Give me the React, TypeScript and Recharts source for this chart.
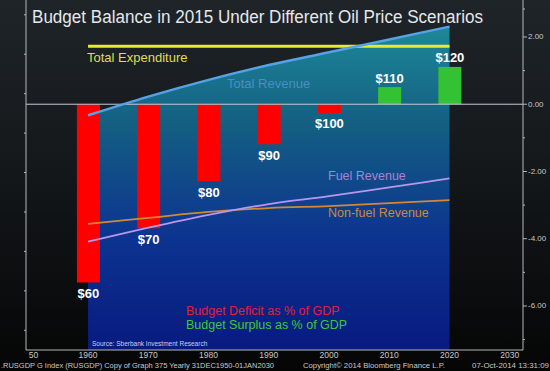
import React from 'react';
import { ComposedChart, Bar, Line, Area, XAxis, YAxis, ReferenceLine, Cell, LabelList } from 'recharts';

const years = [1960, 1970, 1980, 1990, 2000, 2010, 2020];
const oilPrices = ['$60', '$70', '$80', '$90', '$100', '$110', '$120'];
const budgetBalance = [-5.3, -3.69, -2.29, -1.19, -0.26, 0.51, 1.11];
const totalRevenue = [11.9, 12.85, 13.7, 14.45, 15.1, 15.75, 16.4];
const fuelRevenue = [5.5, 6.2, 6.85, 7.4, 7.8, 8.25, 8.7];
const nonFuelRevenue = [6.4, 6.7, 7.0, 7.2, 7.3, 7.45, 7.6];
const totalExpenditure = [15.4, 15.4, 15.4, 15.4, 15.4, 15.4, 15.4];

const xTicks = [1950, 1960, 1970, 1980, 1990, 2000, 2010, 2020, 2030];
const leftTicks = [1, 2, 3, 4, 5, 6, 7, 8, 9, 10, 11, 12, 13, 14, 15, 16, 17];
const rightTicks = [-7, -6, -5, -4, -3, -2, -1, 0, 1, 2, 3];

const data = years.map((year, i) => ({
  year,
  price: oilPrices[i],
  balance: budgetBalance[i],
  totalRev: totalRevenue[i],
  fuel: fuelRevenue[i],
  nonFuel: nonFuelRevenue[i],
  expenditure: totalExpenditure[i],
}));

const FONT = '"Liberation Sans", Arial, sans-serif';
const AXIS = '#b4b8bc';

const LeftTick = (props: any) => {
  const { x, y, payload } = props;
  const major = payload.value % 2 === 0;
  return (
    <g>
      <line x1={x - (major ? 4 : 2)} x2={x} y1={y} y2={y} stroke={AXIS} />
      {major && (
        <text x={x - 5} y={y} textAnchor="end" dominantBaseline="central" fill="#c8c8c8" fontSize={8} fontFamily={FONT}>
          {payload.value.toFixed(2)}
        </text>
      )}
    </g>
  );
};

const RightTick = (props: any) => {
  const { x, y, payload } = props;
  const major = payload.value % 2 === 0;
  return (
    <g>
      <line x1={x} x2={x + (major ? 4 : 2)} y1={y} y2={y} stroke={AXIS} />
      {major && (
        <text x={x + 5} y={y} textAnchor="start" dominantBaseline="central" fill="#c8c8c8" fontSize={8} fontFamily={FONT}>
          {payload.value.toFixed(2)}
        </text>
      )}
    </g>
  );
};

const BottomTick = (props: any) => {
  const { x, y, payload } = props;
  const first = payload.value === 1950;
  return (
    <text x={first ? x + 1 : x} y={y + 5} textAnchor={first ? 'start' : 'middle'} dominantBaseline="central" fill="#c8c8c8" fontSize={8.5} fontFamily={FONT}>
      {first ? '50' : payload.value}
    </text>
  );
};

const PriceLabel = (props: any) => {
  const { x, y, width, height, value } = props;
  const top = Math.min(y, y + height);
  const bottom = Math.max(y, y + height);
  const neg = value < 0;
  const idx = budgetBalance.indexOf(value);
  return (
    <text
      x={x + width / 2}
      y={neg ? bottom + 11 : top - 9}
      textAnchor="middle"
      dominantBaseline="central"
      fill="#ffffff"
      fontSize={13}
      fontWeight="bold"
      fontFamily={FONT}
    >
      {oilPrices[idx]}
    </text>
  );
};

export default function App() {
  return (
    <div
      style={{
        position: 'absolute',
        left: 0,
        top: 0,
        width: 550,
        height: 371,
        background: 'linear-gradient(to bottom, #1f2429 0%, #14181b 45%, #050505 100%)',
        overflow: 'hidden',
      }}
    >
      <ComposedChart width={550} height={371} data={data} margin={{ top: 0, right: 0, bottom: 0, left: 0 }}>
        <defs>
          <linearGradient id="revGrad" x1="0" y1="0" x2="0" y2="1">
            <stop offset="0%" stopColor="#1d8898" />
            <stop offset="30%" stopColor="#145f82" />
            <stop offset="65%" stopColor="#0c3490" />
            <stop offset="100%" stopColor="#081a80" />
          </linearGradient>
        </defs>
        <XAxis
          dataKey="year"
          type="number"
          domain={[1949.7, 2032.2]}
          ticks={xTicks}
          height={21}
          stroke={AXIS}
          tickLine={false}
          tickSize={0}
          tickMargin={0}
          tick={<BottomTick />}
          allowDataOverflow
        />
        <YAxis
          yAxisId="left"
          orientation="left"
          width={26}
          domain={[0, 17.75]}
          ticks={leftTicks}
          stroke={AXIS}
          tickLine={false}
          tickSize={0}
          tickMargin={0}
          tick={<LeftTick />}
          allowDataOverflow
        />
        <YAxis
          yAxisId="right"
          orientation="right"
          width={27}
          domain={[-7.31, 3.1]}
          ticks={rightTicks}
          stroke={AXIS}
          tickLine={false}
          tickSize={0}
          tickMargin={0}
          tick={<RightTick />}
          allowDataOverflow
        />
        <Area
          yAxisId="left"
          dataKey="totalRev"
          type="monotone"
          fill="url(#revGrad)"
          fillOpacity={1}
          stroke="none"
          isAnimationActive={false}
        />
        <Bar yAxisId="right" dataKey="balance" barSize={23} isAnimationActive={false}>
          {data.map((d, i) => (
            <Cell key={`c-${i}`} fill={d.balance < 0 ? '#ff0000' : '#33c233'} />
          ))}
          <LabelList dataKey="balance" content={<PriceLabel />} />
        </Bar>
        <ReferenceLine yAxisId="right" y={0} stroke="#c4ccd4" strokeWidth={1} />
        <Line yAxisId="left" dataKey="expenditure" type="linear" stroke="#e6ec2c" strokeWidth={3} dot={false} isAnimationActive={false} />
        <Line yAxisId="left" dataKey="totalRev" type="monotone" stroke="#55a2e6" strokeWidth={2.5} dot={false} isAnimationActive={false} />
        <Line yAxisId="left" dataKey="nonFuel" type="monotone" stroke="#d08a34" strokeWidth={1.8} dot={false} isAnimationActive={false} />
        <Line yAxisId="left" dataKey="fuel" type="monotone" stroke="#b896ee" strokeWidth={1.8} dot={false} isAnimationActive={false} />
      </ComposedChart>
      <svg width={550} height={371} style={{ position: 'absolute', left: 0, top: 0, pointerEvents: 'none' }} fontFamily={FONT}>
        <text x={32} y={17} dominantBaseline="central" fill="#e4e8ec" fontSize={17.5} textLength={451} lengthAdjust="spacingAndGlyphs">
          Budget Balance in 2015 Under Different Oil Price Scenarios
        </text>
        <text x={87} y={57} dominantBaseline="central" fill="#dede50" fontSize={13}>Total Expenditure</text>
        <text x={227} y={83} dominantBaseline="central" fill="#4a8ec4" fontSize={13}>Total Revenue</text>
        <text x={328} y={176} dominantBaseline="central" fill="#a884d0" fontSize={12.5}>Fuel Revenue</text>
        <text x={328} y={213} dominantBaseline="central" fill="#c88a44" fontSize={12.5}>Non-fuel Revenue</text>
        <text x={186} y={311} dominantBaseline="central" fill="#e0203c" fontSize={12.5}>Budget Deficit as % of GDP</text>
        <text x={186} y={325} dominantBaseline="central" fill="#3cc83c" fontSize={12.5}>Budget Surplus as % of GDP</text>
        <text x={92} y={343} dominantBaseline="central" fill="#c8d0e8" fontSize={6.5}>Source: Sberbank Investment Research</text>
        <text x={1} y={365} dominantBaseline="central" fill="#c8c8c8" fontSize={8} textLength={273} lengthAdjust="spacingAndGlyphs">
          .RUSGDP G Index (RUSGDP) Copy of Graph 375  Yearly 31DEC1950-01JAN2030
        </text>
        <text x={303} y={365} dominantBaseline="central" fill="#c8c8c8" fontSize={8} textLength={142} lengthAdjust="spacingAndGlyphs">Copyright© 2014 Bloomberg Finance L.P.</text>
        <text x={472} y={365} dominantBaseline="central" fill="#c8c8c8" fontSize={8} textLength={77} lengthAdjust="spacingAndGlyphs">07-Oct-2014 13:31:09</text>
      </svg>
    </div>
  );
}
